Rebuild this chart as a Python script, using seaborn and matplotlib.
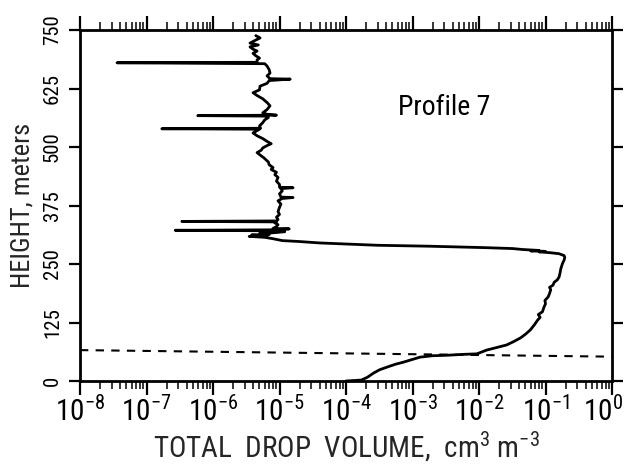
import numpy as np
import pandas as pd
import matplotlib
matplotlib.use("Agg")
import matplotlib.pyplot as plt
import matplotlib.ticker as mticker
import matplotlib.transforms as mtransforms
from matplotlib import font_manager as fm
import seaborn as sns

# ---------------- data ----------------
height_m = [
    0, 2, 8, 17, 24, 30, 36, 40, 46, 51, 54, 55, 57, 58, 62, 66, 72, 77, 84, 92,
    100, 109, 120, 130, 136, 142, 148, 158, 165, 172, 180, 187, 195, 200, 205, 211,
    216, 222, 230, 240, 251, 258, 264, 268, 272, 274, 276, 277, 278, 279, 281, 283,
    285, 288, 290, 292, 295, 298, 300, 304, 307, 309, 310, 312, 313, 315, 317, 319,
    321, 322, 323, 325, 326, 330, 334, 338, 340, 341, 342, 345, 350, 356, 362, 371,
    378, 385, 390, 392, 393, 400, 406, 411, 413, 414, 420, 427, 435, 441, 446, 452,
    456, 462, 468, 477, 482, 488, 493, 498, 503, 507, 512, 518, 524, 530, 535, 538,
    539, 540, 545, 552, 558, 563, 566, 567, 568, 570, 573, 580, 588, 595, 603, 610,
    616, 622, 630, 636, 642, 645, 646, 652, 658, 665, 673, 678, 680, 681, 686, 690,
    695, 700, 705, 709, 714, 718, 722, 727, 733, 738,
]
drop_volume = [
    1.0e-4, 1.7e-4, 2.1e-4, 2.6e-4, 3.2e-4, 4.2e-4, 5.6e-4, 7.2e-4, 1.0e-3, 1.3e-3,
    2.0e-3, 3.3e-3, 6.0e-3, 9.3e-3, 1.1e-2, 1.3e-2, 1.9e-2, 2.6e-2, 3.3e-2, 4.2e-2,
    5.0e-2, 5.9e-2, 6.8e-2, 7.6e-2, 8.3e-2, 7.8e-2, 9.0e-2, 9.5e-2, 0.10, 0.098,
    0.11, 0.115, 0.12, 0.115, 0.13, 0.135, 0.15, 0.16, 0.165, 0.17, 0.18, 0.19,
    0.195, 0.19, 0.16, 0.12, 0.08, 0.10, 0.06, 0.08, 0.045, 0.032,
    1.2e-2, 1.8e-3, 3.0e-4, 1.3e-4, 4.0e-5, 2.0e-5, 1.1e-5, 8.0e-6, 6.0e-6, 3.5e-6,
    6.5e-6, 3.8e-6, 7.0e-6, 5.0e-6, 8.5e-6, 1.2e-5, 7.0e-6, 2.7e-7, 7.5e-6, 1.4e-5,
    8.0e-6, 9.0e-6, 9.5e-6, 8.5e-6, 9.0e-6, 3.4e-7, 9.0e-6, 9.5e-6, 9.0e-6, 1.0e-5,
    9.5e-6, 1.0e-5, 1.05e-5, 9.5e-6, 1.1e-5, 1.6e-5, 1.05e-5, 1.0e-5, 1.1e-5, 1.05e-5,
    1.6e-5, 1.0e-5, 1.0e-5, 9.0e-6, 9.5e-6, 8.5e-6, 9.0e-6, 7.5e-6, 8.0e-6, 7.0e-6,
    6.8e-6, 5.8e-6, 5.2e-6, 4.6e-6, 5.3e-6, 5.6e-6, 6.5e-6, 7.5e-6, 6.5e-6, 5.6e-6,
    4.6e-6, 4.0e-6, 4.6e-6, 5.0e-6, 1.7e-7, 5.2e-6, 5.0e-6, 5.6e-6, 6.0e-6, 6.8e-6,
    6.0e-6, 5.9e-7, 9.0e-6, 6.5e-6, 5.6e-6, 6.5e-6, 7.2e-6, 6.5e-6, 5.6e-6, 4.6e-6,
    4.0e-6, 5.0e-6, 5.1e-6, 6.5e-6, 7.0e-6, 1.45e-5, 7.2e-6, 6.5e-6, 7.2e-6, 7.0e-6,
    6.5e-6, 6.0e-6, 3.6e-8, 4.6e-6, 4.6e-6, 5.0e-6, 4.4e-6, 4.0e-6, 4.6e-6, 4.0e-6,
    3.6e-6, 4.8e-6, 3.6e-6, 4.2e-6, 5.1e-6, 4.4e-6,
]
# dashed reference line (end points)
ref_volume = [1e-8, 1.0]
ref_height = [66, 52]

x_ticks = [1e-8, 1e-7, 1e-6, 1e-5, 1e-4, 1e-3, 1e-2, 1e-1, 1e0]
x_tick_labels = [r"$\mathregular{10^{-8}}$", r"$\mathregular{10^{-7}}$",
                 r"$\mathregular{10^{-6}}$", r"$\mathregular{10^{-5}}$",
                 r"$\mathregular{10^{-4}}$", r"$\mathregular{10^{-3}}$",
                 r"$\mathregular{10^{-2}}$", r"$\mathregular{10^{-1}}$",
                 r"$\mathregular{10^{0}}$"]
y_ticks = [0, 125, 250, 375, 500, 625, 750]
y_tick_labels = ["0", "125", "250", "375", "500", "625", "750"]

# ---------------- style ----------------
sns.set_style("ticks")
names = {f.name for f in fm.fontManager.ttflist}
fam = "DejaVu Sans"
for cand in ["Liberation Sans Narrow", "Roboto Condensed", "Open Sans Condensed", "Liberation Sans"]:
    if cand in names:
        fam = cand
        break
plt.rcParams["font.family"] = [fam, "DejaVu Sans"]
plt.rcParams["mathtext.fontset"] = "custom"
plt.rcParams["mathtext.rm"] = fam
plt.rcParams["mathtext.it"] = fam
plt.rcParams["text.color"] = "black"

fig = plt.figure(figsize=(6.27, 4.68), dpi=100)
ax = fig.add_axes([80 / 627, 1 - 381 / 468, 532 / 627, 351 / 468])

prof = pd.DataFrame({"vol": drop_volume, "h": height_m})
sns.lineplot(data=prof, x="vol", y="h", sort=False, estimator=None,
             color="black", linewidth=2.0, ax=ax)
ref = pd.DataFrame({"vol": ref_volume, "h": ref_height})
sns.lineplot(data=ref, x="vol", y="h", sort=False, estimator=None,
             color="black", linewidth=1.5, linestyle=(0, (4, 3.5)), ax=ax)

ax.set_xscale("log")
ax.set_xlim(1e-8, 1)
ax.set_ylim(0, 750)
ax.set_xticks(x_ticks)
ax.set_xticklabels(x_tick_labels, fontsize=21)
ax.xaxis.set_minor_locator(mticker.LogLocator(base=10, subs=np.arange(2, 10), numticks=100))
ax.xaxis.set_minor_formatter(mticker.NullFormatter())
ax.set_yticks(y_ticks)
ax.set_yticklabels(y_tick_labels, fontsize=15, rotation=90, va="center")

for s in ax.spines.values():
    s.set_visible(True)
    s.set_linewidth(2)
    s.set_color("black")

ax.tick_params(axis="x", which="major", direction="out", length=10, width=1.6,
               top=True, bottom=True, pad=1, colors="black")
ax.tick_params(axis="x", which="minor", direction="out", length=6, width=1.3,
               top=True, bottom=True)
ax.tick_params(axis="y", which="major", direction="out", length=8, width=1.6,
               left=True, right=True, pad=5, colors="black")

# nudge the last x tick label left so it stays inside the figure
last = ax.get_xticklabels()[-1]
last.set_transform(last.get_transform() +
                   mtransforms.ScaledTranslation(-9 / 100, 0, fig.dpi_scale_trans))

ax.set_xlabel("TOTAL  DROP  VOLUME,  cm$^{3}$ m$^{-3}$", fontsize=21, labelpad=2)
ax.set_ylabel("HEIGHT, meters", fontsize=19, labelpad=6)

ax.text(0.685, 0.78, "Profile 7", transform=ax.transAxes, fontsize=20,
        ha="center", va="center")

fig.savefig("out.png", dpi=100, facecolor="white")
